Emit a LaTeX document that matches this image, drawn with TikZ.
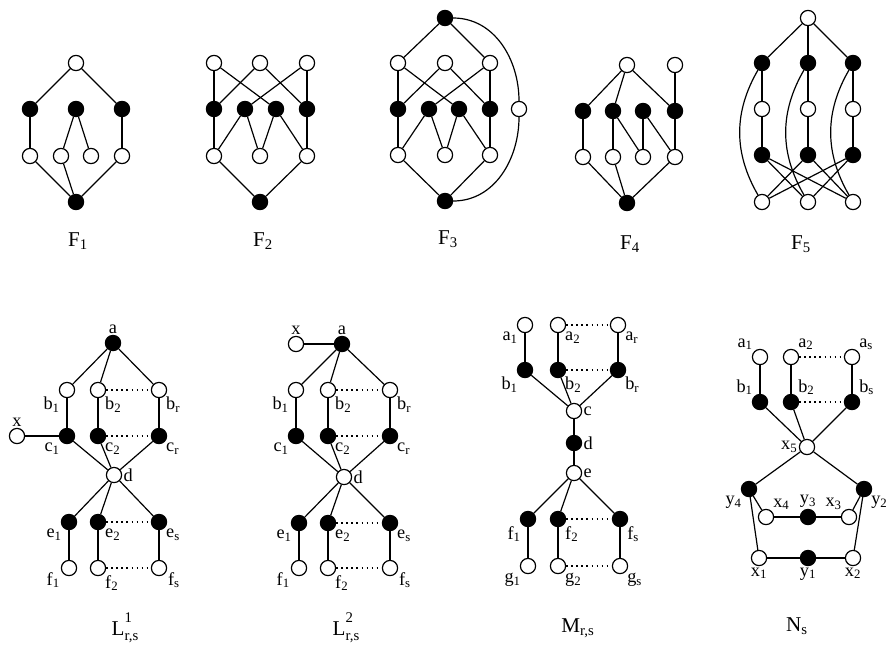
\documentclass[tikz,border=0pt]{standalone}
\usepackage{fontspec}
\setmainfont{Liberation Serif}
\usepackage{tikz}
\usetikzlibrary{positioning}
\tikzset{
  vtx/.style={circle, draw, inner sep=0pt, minimum size=0.38cm}, % every vertex
  wv/.style={vtx, fill=white}, % open vertex
  bv/.style={vtx, fill=black}, % filled vertex
  every label/.style={font=\fontsize{13}{15}\selectfont, inner sep=0.6pt},
  label distance=0pt,
  gcap/.style={font=\fontsize{15}{17}\selectfont},
  dotline/.style={dash pattern=on 1pt off 2.6pt},
}
% vertex names with an index
\newcommand{\vl}[2]{#1\textsubscript{#2}}
% family names with upper and lower index
\newcommand{\idx}{\fontsize{10.5}{12}\selectfont}
\newcommand{\famname}[3]{#1\rlap{\raisebox{1.3ex}{\idx #2}}\raisebox{-0.55ex}{\idx #3}}

\begin{document}
\begin{tikzpicture}[x=0.025cm, y=-0.025cm, line width=0.85pt]
\useasboundingbox (0,0) rectangle (892,646);

% ---------- F1 ----------
\node[wv] (f1t) at (76,63) {};
\node[bv] (f1b1) at (30,109) {};
\node[bv] (f1b2) at (76,109) {};
\node[bv] (f1b3) at (122,109) {};
\node[wv] (f1w1) at (30,156) {};
\node[wv] (f1w2) at (61,156) {};
\node[wv] (f1w3) at (91,156) {};
\node[wv] (f1w4) at (122,156) {};
\node[bv] (f1z) at (76,202) {};
\path (f1t) edge (f1b1) edge (f1b3)
  (f1b1) edge (f1w1) (f1b3) edge (f1w4)
  (f1b2) edge (f1w2) edge (f1w3)
  (f1z) edge (f1w1) edge (f1w2) edge (f1w4);
\node[gcap] (f1cap) at (78,241) {F\textsubscript{1}};

% ---------- F2 ----------
\node[wv] (f2t1) at (214,63) {};
\node[wv] (f2t2) at (260,63) {};
\node[wv] (f2t3) at (307,63) {};
\node[bv] (f2b1) at (214,109) {};
\node[bv] (f2b2) at (245,109) {};
\node[bv] (f2b3) at (276,109) {};
\node[bv] (f2b4) at (307,109) {};
\node[wv] (f2w1) at (214,156) {};
\node[wv] (f2w2) at (260,156) {};
\node[wv] (f2w3) at (307,156) {};
\node[bv] (f2z) at (260,202) {};
\path (f2t1) edge (f2b1) edge (f2b3)
  (f2t2) edge (f2b1) edge (f2b4)
  (f2t3) edge (f2b2) edge (f2b4)
  (f2w1) edge (f2b1) edge (f2b2) edge (f2z)
  (f2w2) edge (f2b2) edge (f2b3)
  (f2w3) edge (f2b3) edge (f2b4) edge (f2z);
\node[gcap] (f2cap) at (263,241) {F\textsubscript{2}};

% ---------- F3 ----------
\node[bv] (f3top) at (445,18) {};
\node[wv] (f3t1) at (398,63) {};
\node[wv] (f3t2) at (445,63) {};
\node[wv] (f3t3) at (490,63) {};
\node[bv] (f3b1) at (398,109) {};
\node[bv] (f3b2) at (429,109) {};
\node[bv] (f3b3) at (459,109) {};
\node[bv] (f3b4) at (490,109) {};
\node[wv] (f3s) at (519,109) {};
\node[wv] (f3w1) at (398,155) {};
\node[wv] (f3w2) at (445,155) {};
\node[wv] (f3w3) at (490,155) {};
\node[bv] (f3z) at (445,201) {};
\path (f3top) edge (f3t1) edge (f3t3)
  (f3t1) edge (f3b1) edge (f3b3)
  (f3t2) edge (f3b1) edge (f3b4)
  (f3t3) edge (f3b2) edge (f3b4)
  (f3w1) edge (f3b1) edge (f3b2) edge (f3z)
  (f3w2) edge (f3b2) edge (f3b3)
  (f3w3) edge (f3b3) edge (f3b4) edge (f3z);
\draw (f3top) to[out=0, in=90] (f3s);
\draw (f3s) to[out=-90, in=0] (f3z);
\node[gcap] (f3cap) at (448,239) {F\textsubscript{3}};

% ---------- F4 ----------
\node[wv] (f4t) at (627,65) {};
\node[wv] (f4u) at (675,65) {};
\node[bv] (f4b1) at (583,111) {};
\node[bv] (f4b2) at (613,111) {};
\node[bv] (f4b3) at (643,111) {};
\node[bv] (f4b4) at (675,111) {};
\node[wv] (f4w1) at (583,157) {};
\node[wv] (f4w2) at (613,157) {};
\node[wv] (f4w3) at (643,157) {};
\node[wv] (f4w4) at (675,157) {};
\node[bv] (f4z) at (627,203) {};
\path (f4t) edge (f4b1) edge (f4b2) edge (f4b4)
  (f4u) edge (f4b4)
  (f4b1) edge (f4w1)
  (f4b2) edge (f4w2) edge (f4w3)
  (f4b3) edge (f4w3) edge (f4w4)
  (f4b4) edge (f4w4)
  (f4z) edge (f4w1) edge (f4w2) edge (f4w4);
\node[gcap] (f4cap) at (630,244) {F\textsubscript{4}};

% ---------- F5 ----------
\node[wv] (f5t) at (808,18) {};
\foreach \i/\x in {1/762,2/808,3/853}{
  \node[bv] (f5b\i) at (\x,63) {};
  \node[wv] (f5w\i) at (\x,109) {};
  \node[bv] (f5c\i) at (\x,155) {};
  \node[wv] (f5z\i) at (\x,202) {};
  \path (f5t) edge (f5b\i)
    (f5b\i) edge (f5w\i) (f5w\i) edge (f5c\i);
  \draw (f5b\i) to[bend right=30] (f5z\i);
}
\path (f5c1) edge (f5z2) edge (f5z3)
  (f5c2) edge (f5z1) edge (f5z3)
  (f5c3) edge (f5z1) edge (f5z2);
\node[gcap] (f5cap) at (801,244) {F\textsubscript{5}};

% ---------- L^1_{r,s} ----------
\node[bv, label=above:a] (l1a) at (113,343) {};
\node[wv, label=below left:\vl{b}{1}] (l1b1) at (67,390) {};
\node[wv, label=below right:\vl{b}{2}] (l1b2) at (98,390) {};
\node[wv, label=below right:\vl{b}{r}] (l1br) at (159,390) {};
\node[wv, label=above:x] (l1x) at (17,436) {};
\node[bv, label=below left:\vl{c}{1}] (l1c1) at (67,436) {};
\node[bv, label=below right:\vl{c}{2}] (l1c2) at (98,436) {};
\node[bv, label=below right:\vl{c}{r}] (l1cr) at (159,436) {};
\node[wv, label=right:d] (l1d) at (114,475) {};
\node[bv, label=below left:\vl{e}{1}] (l1e1) at (69,522) {};
\node[bv, label=below right:\vl{e}{2}] (l1e2) at (98,522) {};
\node[bv, label=below right:\vl{e}{s}] (l1es) at (159,522) {};
\node[wv, label=-160:\vl{f}{1}] (l1f1) at (69,568) {};
\node[wv, label=below right:\vl{f}{2}] (l1f2) at (98,568) {};
\node[wv, label=-20:\vl{f}{s}] (l1fs) at (159,568) {};
\path (l1a) edge (l1b1) edge (l1b2) edge (l1br)
  (l1b1) edge (l1c1) (l1b2) edge (l1c2) (l1br) edge (l1cr)
  (l1x) edge (l1c1)
  (l1d) edge (l1c1) edge (l1c2) edge (l1cr)
  (l1d) edge (l1e1) edge (l1e2) edge (l1es)
  (l1e1) edge (l1f1) (l1e2) edge (l1f2) (l1es) edge (l1fs);
\path[dotline] (l1b2) edge (l1br) (l1c2) edge (l1cr)
  (l1e2) edge (l1es) (l1f2) edge (l1fs);
\node[gcap] (l1cap) at (125,628) {\famname{L}{1}{r,s}};

% ---------- L^2_{r,s} ----------
\node[wv, label=above:x] (l2x) at (296,344) {};
\node[bv, label=above:a] (l2a) at (342,344) {};
\node[wv, label=below left:\vl{b}{1}] (l2b1) at (296,390) {};
\node[wv, label=below right:\vl{b}{2}] (l2b2) at (328,390) {};
\node[wv, label=below right:\vl{b}{r}] (l2br) at (390,390) {};
\node[bv, label=below left:\vl{c}{1}] (l2c1) at (296,436) {};
\node[bv, label=below right:\vl{c}{2}] (l2c2) at (328,436) {};
\node[bv, label=below right:\vl{c}{r}] (l2cr) at (390,436) {};
\node[wv, label=right:d] (l2d) at (344,477) {};
\node[bv, label=below left:\vl{e}{1}] (l2e1) at (299,523) {};
\node[bv, label=below right:\vl{e}{2}] (l2e2) at (328,523) {};
\node[bv, label=below right:\vl{e}{s}] (l2es) at (390,523) {};
\node[wv, label=-160:\vl{f}{1}] (l2f1) at (299,568) {};
\node[wv, label=below right:\vl{f}{2}] (l2f2) at (328,568) {};
\node[wv, label=-20:\vl{f}{s}] (l2fs) at (390,568) {};
\path (l2a) edge (l2x) edge (l2b1) edge (l2b2) edge (l2br)
  (l2b1) edge (l2c1) (l2b2) edge (l2c2) (l2br) edge (l2cr)
  (l2d) edge (l2c1) edge (l2c2) edge (l2cr)
  (l2d) edge (l2e1) edge (l2e2) edge (l2es)
  (l2e1) edge (l2f1) (l2e2) edge (l2f2) (l2es) edge (l2fs);
\path[dotline] (l2b2) edge (l2br) (l2c2) edge (l2cr)
  (l2e2) edge (l2es) (l2f2) edge (l2fs);
\node[gcap] (l2cap) at (346,628) {\famname{L}{2}{r,s}};

% ---------- M_{r,s} ----------
\node[wv, label=below left:\vl{a}{1}] (ma1) at (525,325) {};
\node[wv, label=below right:\vl{a}{2}] (ma2) at (558,325) {};
\node[wv, label=below right:\vl{a}{r}] (mar) at (618,325) {};
\node[bv, label=below left:\vl{b}{1}] (mb1) at (525,370) {};
\node[bv, label=below right:\vl{b}{2}] (mb2) at (558,370) {};
\node[bv, label=below right:\vl{b}{r}] (mbr) at (618,370) {};
\node[wv, label=right:c] (mc) at (574,411) {};
\node[bv, label=right:d] (md) at (574,443) {};
\node[wv, label=right:e] (me) at (574,473) {};
\node[bv, label=below left:\vl{f}{1}] (mf1) at (528,519) {};
\node[bv, label=below right:\vl{f}{2}] (mf2) at (558,519) {};
\node[bv, label=below right:\vl{f}{s}] (mfs) at (620,519) {};
\node[wv, label=below left:\vl{g}{1}] (mg1) at (528,566) {};
\node[wv, label=below right:\vl{g}{2}] (mg2) at (558,566) {};
\node[wv, label=below right:\vl{g}{s}] (mgs) at (620,566) {};
\path (ma1) edge (mb1) (ma2) edge (mb2) (mar) edge (mbr)
  (mc) edge (mb1) edge (mb2) edge (mbr) edge (md)
  (me) edge (md) edge (mf1) edge (mf2) edge (mfs)
  (mf1) edge (mg1) (mf2) edge (mg2) (mfs) edge (mgs);
\path[dotline] (ma2) edge (mar) (mb2) edge (mbr)
  (mf2) edge (mfs) (mg2) edge (mgs);
\node[gcap] (mcap) at (578,628) {M\textsubscript{r,s}};

% ---------- N_s ----------
\node[wv, label=above left:\vl{a}{1}] (na1) at (760,357) {};
\node[wv, label=above right:\vl{a}{2}] (na2) at (791,357) {};
\node[wv, label=above right:\vl{a}{s}] (nas) at (852,357) {};
\node[bv, label=above left:\vl{b}{1}] (nb1) at (760,402) {};
\node[bv, label=above right:\vl{b}{2}] (nb2) at (791,402) {};
\node[bv, label=above right:\vl{b}{s}] (nbs) at (852,402) {};
\node[wv, label=left:\vl{x}{5}] (nx5) at (807,447) {};
\node[bv, label=below left:\vl{y}{4}] (ny4) at (749,489) {};
\node[bv, label=below right:\vl{y}{2}] (ny2) at (864,489) {};
\node[wv, label=above right:\vl{x}{4}] (nx4) at (766,517) {};
\node[bv, label=above:\vl{y}{3}] (ny3) at (808,517) {};
\node[wv, label=above left:\vl{x}{3}] (nx3) at (849,517) {};
\node[wv, label=below:\vl{x}{1}] (nx1) at (759,558) {};
\node[bv, label=below:\vl{y}{1}] (ny1) at (808,558) {};
\node[wv, label=below:\vl{x}{2}] (nx2) at (853,558) {};
\path (na1) edge (nb1) (na2) edge (nb2) (nas) edge (nbs)
  (nx5) edge (nb1) edge (nb2) edge (nbs) edge (ny4) edge (ny2)
  (ny4) edge (nx4) edge (nx1)
  (ny2) edge (nx3) edge (nx2)
  (ny3) edge (nx4) edge (nx3)
  (ny1) edge (nx1) edge (nx2);
\path[dotline] (na2) edge (nas) (nb2) edge (nbs);
\node[gcap] (ncap) at (797,626) {N\textsubscript{s}};
\end{tikzpicture}
\end{document}
